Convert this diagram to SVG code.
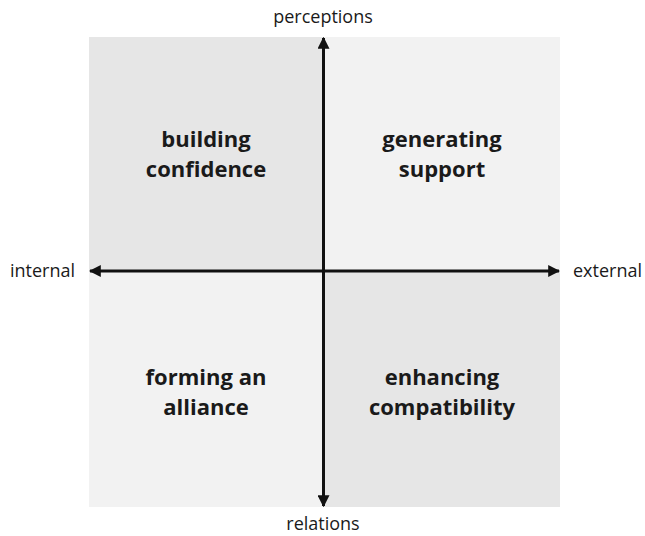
<svg xmlns="http://www.w3.org/2000/svg" width="645" height="536" viewBox="0 0 645 536">
<style>
.q{font-family:"Open Sans","Liberation Sans",sans-serif;font-weight:bold;font-size:22px;fill:#1a1a1a;text-anchor:middle}
.a{font-family:"Open Sans","Liberation Sans",sans-serif;font-size:18px;fill:#1a1a1a}
.ax{stroke:#111;stroke-width:3;fill:none}
</style>
<defs>
<marker id="ah" viewBox="0 0 10 10" refX="9" refY="5" markerWidth="4" markerHeight="4" markerUnits="strokeWidth" orient="auto">
<path d="M0,0 L10,5 L0,10 z" fill="#111"/>
</marker>
</defs>
<rect width="645" height="536" fill="#fff"/>
<g id="q-building-confidence">
<rect x="89" y="37" width="234.5" height="234" fill="#e6e6e6"/>
<text class="q" x="206" y="147">building</text>
<text class="q" x="206" y="177">confidence</text>
</g>
<g id="q-generating-support">
<rect x="323.5" y="37" width="236.5" height="234" fill="#f2f2f2"/>
<text class="q" x="442" y="147">generating</text>
<text class="q" x="442" y="177">support</text>
</g>
<g id="q-forming-alliance">
<rect x="89" y="271" width="234.5" height="236" fill="#f2f2f2"/>
<text class="q" x="206" y="385">forming an</text>
<text class="q" x="206" y="415">alliance</text>
</g>
<g id="q-enhancing-compatibility">
<rect x="323.5" y="271" width="236.5" height="236" fill="#e6e6e6"/>
<text class="q" x="442" y="385">enhancing</text>
<text class="q" x="442" y="415">compatibility</text>
</g>
<g id="connectors">
<line class="ax" x1="323.5" y1="271" x2="323.5" y2="38" marker-end="url(#ah)"/>
<line class="ax" x1="323.5" y1="271" x2="323.5" y2="506" marker-end="url(#ah)"/>
<line class="ax" x1="323.5" y1="271" x2="90" y2="271" marker-end="url(#ah)"/>
<line class="ax" x1="323.5" y1="271" x2="559" y2="271" marker-end="url(#ah)"/>
</g>
<g id="labels">
<text class="a" x="323" y="23" text-anchor="middle">perceptions</text>
<text class="a" x="10" y="277">internal</text>
<text class="a" x="573" y="277">external</text>
<text class="a" x="323" y="530" text-anchor="middle">relations</text>
</g>
</svg>
